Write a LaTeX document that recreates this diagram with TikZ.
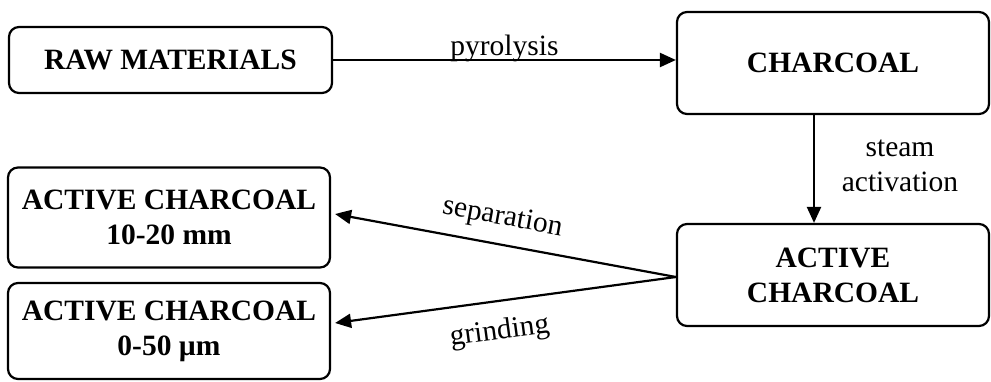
\documentclass[tikz,border=0pt]{standalone}
\usepackage{fontspec}
\setmainfont{Liberation Serif}
\usetikzlibrary{arrows.meta}
\tikzset{
    box/.style={draw=black, rounded corners=10pt, line width=2.2pt, inner sep=0pt, align=center, font=\bfseries\fontsize{29.5}{35}\selectfont},
    flow/.style={-{Triangle[length=16pt,width=14pt]}, line width=2.2pt},
    lbl/.style={font=\fontsize{29.5}{35}\selectfont}
}
\begin{document}
\begin{tikzpicture}[x=1pt,y=1pt]
    \useasboundingbox (0,0) rectangle (991,381);
    \node[box, minimum width=323pt, minimum height=66pt] (raw) at (170.5,321) {RAW MATERIALS};
    \node[box, minimum width=312pt, minimum height=102pt] (charcoal) at (833,318) {CHARCOAL};
    \node[box, minimum width=312pt, minimum height=102pt] (active) at (833,106) {ACTIVE\\CHARCOAL};
    \node[box, minimum width=322pt, minimum height=100pt] (coarse) at (169,163.5) {ACTIVE CHARCOAL\\10-20 mm};
    \node[box, minimum width=322pt, minimum height=96pt] (fine) at (169,50) {ACTIVE CHARCOAL\\0-50 µm};
    \coordinate (steamx) at (814,0);
    \path [flow] (raw.east) edge node[lbl, above, inner sep=0pt, yshift=-3pt] {pyrolysis} (raw.east -| charcoal.west);
    \path [flow] (charcoal.south -| steamx) edge (active.north -| steamx);
    \node[lbl, align=center] (steam) at (900,215) {steam\\activation};
    \path [flow] ([yshift=-2pt]active.west) edge node[lbl, sloped, above=9pt, xshift=-8pt] {separation} ([xshift=4pt,yshift=3.5pt]coarse.east);
    \path [flow] ([yshift=-2pt]active.west) edge node[lbl, sloped, below=13pt, xshift=-10pt] {grinding} ([xshift=4pt,yshift=8pt]fine.east);
\end{tikzpicture}
\end{document}
